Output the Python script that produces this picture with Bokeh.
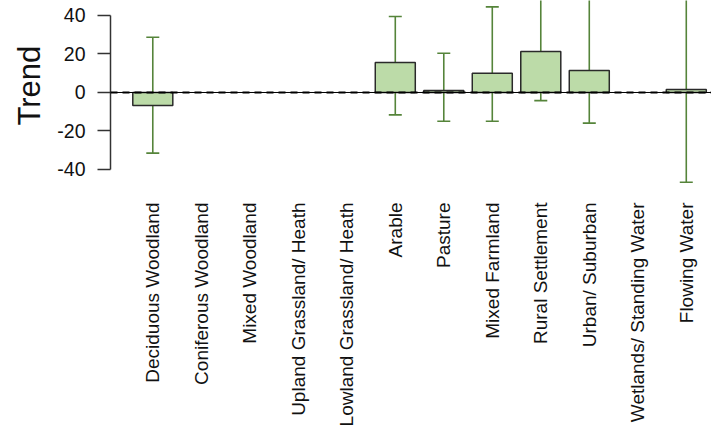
import numpy as np
from bokeh.plotting import figure
from bokeh.models import (ColumnDataSource, Whisker, Span, FixedTicker, Range1d,
                          TeeHead, Title)
from bokeh.embed import file_html
from bokeh.resources import INLINE

categories = ["Deciduous Woodland", "Coniferous Woodland", "Mixed Woodland",
              "Upland Grassland/ Heath", "Lowland Grassland/ Heath", "Arable",
              "Pasture", "Mixed Farmland", "Rural Settlement", "Urban/ Suburban",
              "Wetlands/ Standing Water", "Flowing Water"]
nan = float("nan")
trend = [-6.8, nan, nan, nan, nan, 15.6, 1.0, 10.0, 21.3, 11.4, nan, 1.6]
lower = [-31.5, nan, nan, nan, nan, -11.6, -14.9, -14.9, -4.2, -15.9, nan, -46.6]
upper = [28.7, nan, nan, nan, nan, 39.5, 20.4, 44.5, 52.0, 55.0, nan, 52.0]
y_ticks = [-40, -20, 0, 20, 40]
y_tick_labels = ["-40", "-20", "0", "20", "40"]
y_title = "Trend"

xs = np.arange(len(categories), dtype=float)
t = np.array(trend)
lo = np.array(lower)
hi = np.array(upper)
ok = ~np.isnan(t)

src = ColumnDataSource(dict(x=xs[ok], top=t[ok], lower=lo[ok], upper=hi[ok]))

p = figure(width=711, frame_height=193, output_backend="svg", toolbar_location=None,
           x_range=Range1d(-0.872, 11.52), y_range=Range1d(-52.47, 47.79),
           min_border_left=110, min_border_right=0, min_border_top=0,
           min_border_bottom=0)
p.outline_line_color = None
p.xgrid.visible = False
p.ygrid.visible = False
p.background_fill_color = "white"

p.vbar(x="x", top="top", bottom=0, width=0.825, source=src,
       fill_color="#bcdba8", line_color="#2a2a2a", line_width=1.5)

zero_solid = Span(location=0, dimension="width", line_color="black", line_width=1)
zero_dash = Span(location=0, dimension="width", line_color="black", line_width=2.2,
                 line_dash="7 5")
p.add_layout(zero_solid)

w = Whisker(base="x", lower="lower", upper="upper", source=src,
            line_color="#55843a", line_width=1.6,
            upper_head=TeeHead(size=13, line_color="#55843a", line_width=1.6),
            lower_head=TeeHead(size=13, line_color="#55843a", line_width=1.6))
p.add_layout(w)
p.add_layout(zero_dash)

# y axis
ya = p.yaxis[0]
ya.ticker = FixedTicker(ticks=y_ticks)
ya.major_label_overrides = {v: s for v, s in zip(y_ticks, y_tick_labels)}
ya.bounds = (-40, 40)
ya.axis_line_color = "#333333"
ya.axis_line_width = 1.5
ya.major_tick_line_color = "#333333"
ya.major_tick_line_width = 1.5
ya.major_tick_out = 13
ya.major_tick_in = 0
ya.minor_tick_line_color = None
ya.major_label_standoff = 12
ya.major_label_text_font = "Liberation Sans"
ya.major_label_text_font_size = "19.5px"
ya.major_label_text_color = "#111111"

# y title in the left panel, starting from the lower end and shifted up
p.add_layout(Title(text=y_title, align="left", offset=68, standoff=15,
                   text_font="Liberation Sans", text_font_size="31px",
                   text_font_style="normal", text_color="#111111"), "left")

# x axis
xa = p.xaxis[0]
xa.ticker = FixedTicker(ticks=list(xs))
xa.major_label_overrides = {float(i): c for i, c in enumerate(categories)}
xa.major_label_orientation = np.pi / 2
xa.axis_line_color = None
xa.major_tick_line_color = None
xa.minor_tick_line_color = None
xa.major_label_standoff = 3
xa.major_label_text_font = "Liberation Sans"
xa.major_label_text_font_size = "19px"
xa.major_label_text_color = "#111111"

open("out.html", "w").write(file_html(p, INLINE))
